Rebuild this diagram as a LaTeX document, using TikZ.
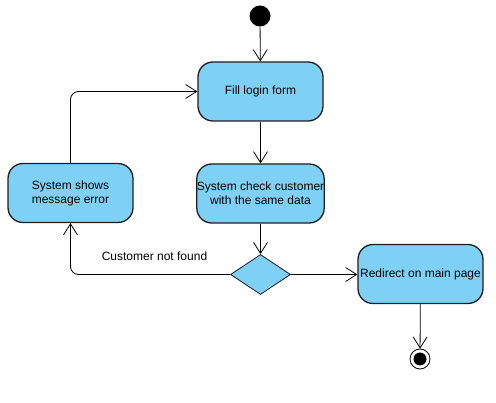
\documentclass[tikz,border=0pt]{standalone}
\usepackage{fontspec}
\setmainfont{Liberation Sans}
\usetikzlibrary{arrows.meta,shapes.geometric}
\definecolor{actfill}{RGB}{126,209,244}
\definecolor{actline}{RGB}{30,30,30}
\tikzset{
  activity/.style={draw=actline, fill=actfill, line width=1.3pt, rounded corners=15pt,
    minimum width=125pt, minimum height=59pt, inner sep=0pt, align=center,
    font=\fontsize{12pt}{14pt}\selectfont},
  decision/.style={draw=actline, fill=actfill, line width=0.8pt, diamond, aspect=1.5,
    minimum width=60pt, minimum height=40pt, inner sep=0pt},
  flow/.style={draw=black, line width=0.8pt, -{Straight Barb[length=11pt,width=14pt]}, rounded corners=8pt},
  initial/.style={circle, fill=black, minimum size=21pt, inner sep=0pt},
  final/.style={circle, draw=black, line width=0.8pt, fill=white, minimum size=20pt, inner sep=0pt},
  finaldot/.style={circle, fill=black, minimum size=13pt, inner sep=0pt},
  label/.style={font=\fontsize{12pt}{14pt}\selectfont}
}
\begin{document}
\begin{tikzpicture}[x=1pt,y=-1pt]
\useasboundingbox (0,0) rectangle (496,403);
% nodes
\node[initial] (start) at (260,16) {};
\node[activity] (fill) at (260.5,91.5) {Fill login form};
\node[activity] (check) at (260.5,193.5) {System check customer\\with the same data};
\node[activity] (error) at (70.5,193) {System shows\\message error};
\node[decision] (dec) at (260.5,274.5) {};
\node[activity] (redir) at (420.5,274) {Redirect on main page};
\node[final] (end) at (420,359) {};
\node[finaldot] (enddot) at (420,359) {};
\node[label] (nf) at (154.5,256.5) {Customer not found};
% connectors
\draw[flow] (start) -- (fill);
\draw[flow] (fill) -- (check);
\draw[flow] (check) -- (dec);
\draw[flow] (dec.east) -- (redir.west |- dec.east);
\draw[flow] (dec.west) -| (error.south);
\draw[flow] (error.north) |- (fill.west);
\draw[flow] (redir) -- (end);
\end{tikzpicture}
\end{document}
